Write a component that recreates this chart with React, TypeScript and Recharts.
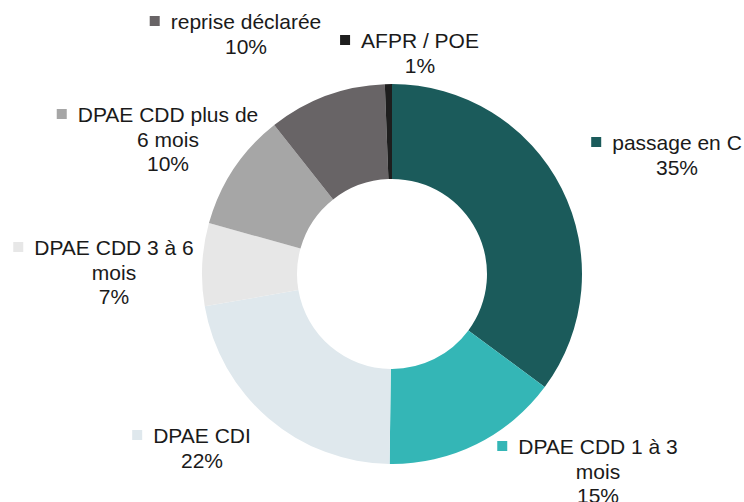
import { PieChart, Pie, Cell } from "recharts";

// slices, clockwise from 12 o'clock
const categories = [
  "passage en C",
  "DPAE CDD 1 à 3\nmois",
  "DPAE CDI",
  "DPAE CDD 3 à 6\nmois",
  "DPAE CDD plus de\n6 mois",
  "reprise déclarée",
  "AFPR / POE",
];
const shares = [35, 15, 22, 7, 10, 10, 0.6];
const colors = [
  "#1b5b5b",
  "#34b6b6",
  "#dfe8ed",
  "#e7e7e7",
  "#a6a6a6",
  "#686466",
  "#1e1e1e",
];

// hand-placed label blocks (text centre, first baseline), relative to pie centre
const LABEL_POS = [
  { dx: 285, dy: -124 },
  { dx: 206, dy: 180 },
  { dx: -190, dy: 169 },
  { dx: -278, dy: -19 },
  { dx: -224, dy: -152 },
  { dx: -146, dy: -245 },
  { dx: 28, dy: -226 },
];

const FONT = "21px 'Liberation Sans', Arial, sans-serif";
const LINE_H = 24.5;

let ctx: CanvasRenderingContext2D | null = null;
const measure = (s: string) => {
  if (!ctx) ctx = document.createElement("canvas").getContext("2d");
  if (!ctx) return s.length * 11;
  ctx.font = FONT;
  return ctx.measureText(s).width;
};

const data = categories.map((name, i) => ({ name, value: shares[i] }));

const renderLabel = (props: any) => {
  const { cx, cy, index, percent } = props;
  const pos = LABEL_POS[index];
  const x = cx + pos.dx;
  const y = cy + pos.dy;
  const lines = [...categories[index].split("\n"), `${Math.round(percent * 100)}%`];
  const w = measure(lines[0]);
  return (
    <g key={`lbl-${index}`}>
      <rect x={x - w / 2 - 21} y={y - 13} width={10} height={10} fill={colors[index]} />
      <text
        x={x}
        y={y}
        textAnchor="middle"
        fill="#1a1a1a"
        style={{ font: FONT }}
      >
        {lines.map((l, j) => (
          <tspan key={j} x={x} y={y + j * LINE_H}>
            {l}
          </tspan>
        ))}
      </text>
    </g>
  );
};

export default function App() {
  return (
    <div style={{ position: "fixed", left: 0, top: 0, width: 744, height: 502, background: "#fff" }}>
      <PieChart width={744} height={502} margin={{ top: 0, right: 0, bottom: 0, left: 0 }}>
        <Pie
          data={data}
          dataKey="value"
          nameKey="name"
          cx={392}
          cy={274}
          innerRadius={95}
          outerRadius={190}
          startAngle={90}
          endAngle={-270}
          stroke="none"
          label={renderLabel}
          labelLine={false}
          isAnimationActive={false}
        >
          {data.map((d, i) => (
            <Cell key={`cell-${i}`} fill={colors[i]} />
          ))}
        </Pie>
      </PieChart>
    </div>
  );
}
